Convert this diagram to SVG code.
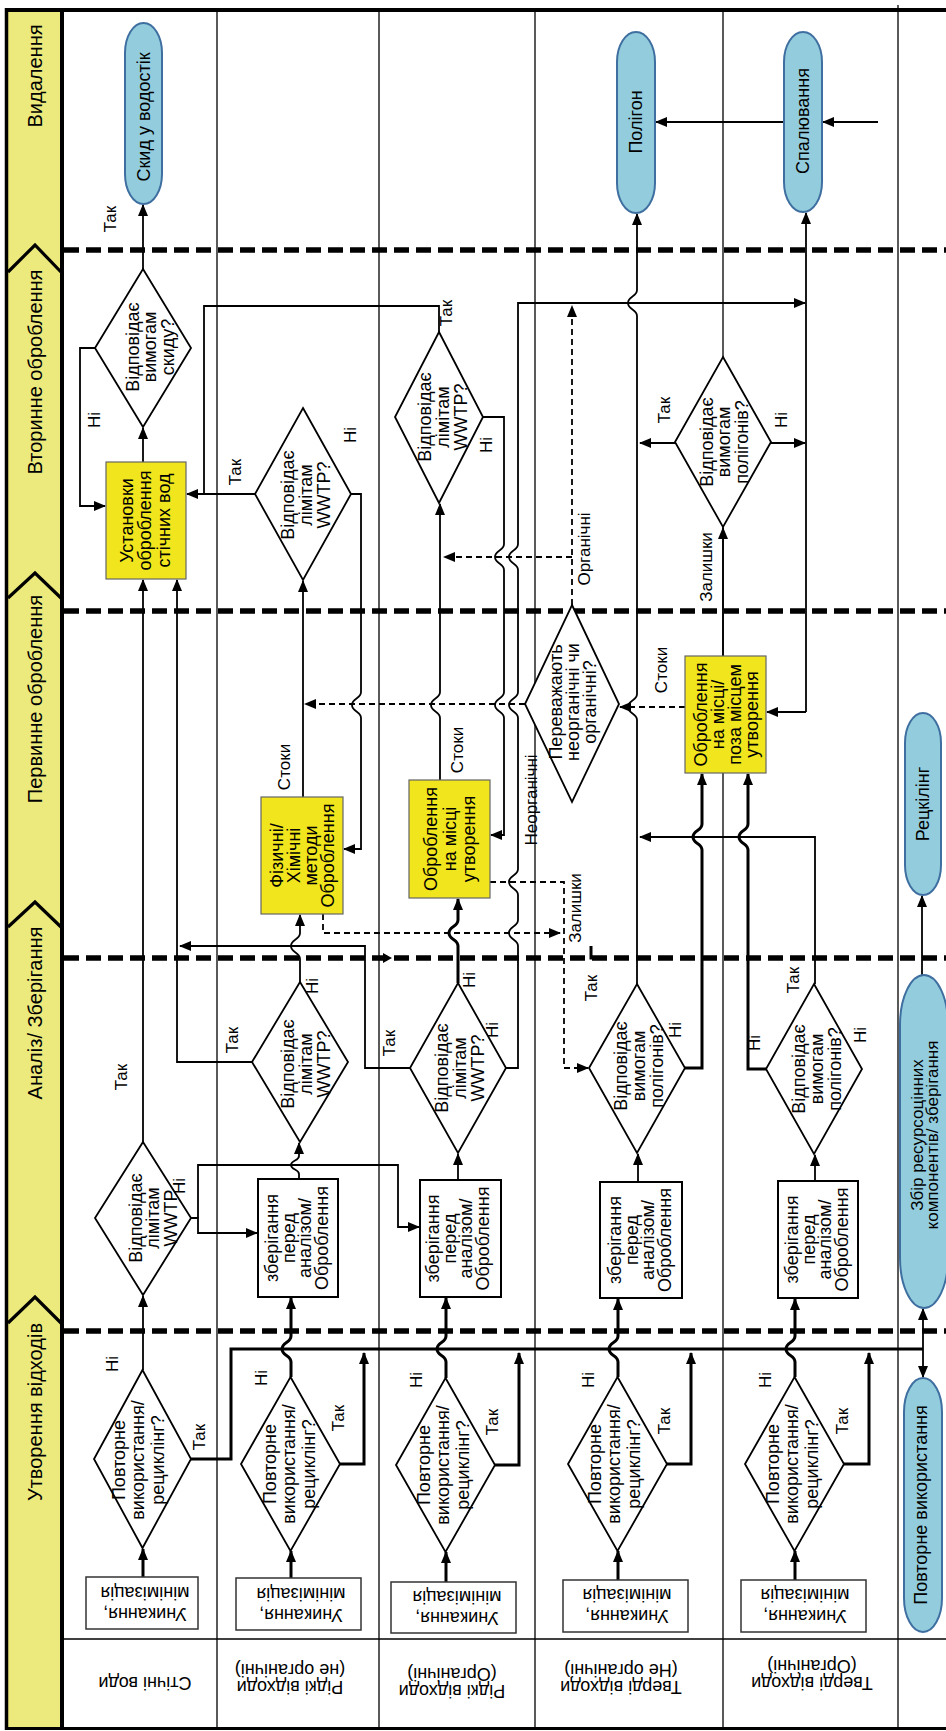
<svg xmlns="http://www.w3.org/2000/svg" width="946" height="1731" viewBox="0 0 946 1731">
<style>
text,tspan{font-family:"Liberation Sans",Arial,sans-serif;fill:#000;text-anchor:middle;dominant-baseline:central;font-size:17px}
.f18,.f18 tspan{font-size:18px}
.f19{font-size:20px}
.f16,.f16 tspan{font-size:17px}
.ln{fill:none;stroke:#000;stroke-width:1.8}
.tk{stroke-width:3}
.ds{stroke-dasharray:6 4}
.ph{fill:none;stroke:#000;stroke-width:5.5;stroke-dasharray:15 7}
.lane{stroke:#000;stroke-width:1.3}
.dia{fill:#fff;stroke:#000;stroke-width:1.8}
.box{fill:#fff;stroke:#000;stroke-width:2}
.ubox{fill:#fff;stroke:#333;stroke-width:1.5}
.ybox{fill:#F1E51D;stroke:#666;stroke-width:1.2}
.term{fill:#93CDDD;stroke:#3F6FA0;stroke-width:2}
.chev{fill:none;stroke:#000;stroke-width:3.2}
</style>
<defs>
<marker id="ah" viewBox="0 0 12 10" refX="11" refY="5" markerWidth="12" markerHeight="10" markerUnits="userSpaceOnUse" orient="auto"><path d="M0,0 L12,5 L0,10 z" fill="#000"/></marker>
</defs>
<rect x="0" y="0" width="946" height="1731" fill="#fff"/>

<g id="frame">
<rect x="8" y="12" width="53" height="1715" fill="#ECEA7C"/>
<line class="lane" x1="217" y1="12" x2="217" y2="1727"/>
<line class="lane" x1="379" y1="12" x2="379" y2="1727"/>
<line class="lane" x1="535" y1="12" x2="535" y2="1727"/>
<line class="lane" x1="723" y1="12" x2="723" y2="1727"/>
<line class="lane" x1="898" y1="5" x2="898" y2="1727"/>
<line x1="62" y1="1639" x2="946" y2="1639" stroke="#000" stroke-width="1.5"/>
<line x1="62" y1="10" x2="62" y2="1729" stroke="#000" stroke-width="4"/>
<line x1="5" y1="10" x2="946" y2="10" stroke="#000" stroke-width="4"/>
<line x1="6.5" y1="8" x2="6.5" y2="1730" stroke="#000" stroke-width="3.5"/>
<line x1="5" y1="1728.5" x2="946" y2="1728.5" stroke="#000" stroke-width="3"/>
<polyline class="chev" points="8,272 35,245 61,272"/>
<polyline class="chev" points="8,598 35,573 61,598"/>
<polyline class="chev" points="8,927 35,902 61,927"/>
<polyline class="chev" points="8,1323 35,1297 61,1323"/>
<line class="ph" x1="64" y1="250" x2="946" y2="250"/>
<line class="ph" x1="64" y1="611" x2="946" y2="611"/>
<line class="ph" x1="64" y1="958" x2="946" y2="958"/>
<line class="ph" x1="64" y1="1331" x2="946" y2="1331"/>
</g>

<g id="phases">
<text class="f19" transform="translate(35,76) rotate(-90)">Видалення</text>
<text class="f19" transform="translate(35,372) rotate(-90)">Вторинне оброблення</text>
<text class="f19" transform="translate(35,699) rotate(-90)">Первинне оброблення</text>
<text class="f19" transform="translate(35,1013) rotate(-90)">Аналіз/ Зберігання</text>
<text class="f19" transform="translate(35,1412) rotate(-90)">Утворення відходів</text>
</g>

<g id="rowlabels">
<text class="f18" transform="translate(145,1683) rotate(180)">Стічні води</text>
<text class="f18" transform="translate(290,1678.5) rotate(180)"><tspan x="0" y="-8.5">Рідкі відходи</tspan><tspan x="0" y="8.5">(не органічні)</tspan></text>
<text class="f18" transform="translate(452,1682) rotate(180)"><tspan x="0" y="-8.5">Рідкі відходи</tspan><tspan x="0" y="8.5">(Органічні)</tspan></text>
<text class="f18" transform="translate(621,1678.5) rotate(180)"><tspan x="0" y="-8.5">Тверді відходи</tspan><tspan x="0" y="8.5">(Не органічні)</tspan></text>
<text class="f18" transform="translate(812,1674) rotate(180)"><tspan x="0" y="-8.5">Тверді відходи</tspan><tspan x="0" y="8.5">(Органічні)</tspan></text>
</g>

<g id="connectors">
<path class="ln" d="M143,269 V205" marker-end="url(#ah)"/>
<path class="ln" d="M784,122 H656" marker-end="url(#ah)"/>
<path class="ln" d="M878,122 H823" marker-end="url(#ah)"/>
<path class="ln" d="M143,462 V428" marker-end="url(#ah)"/>
<path class="ln" d="M95,348 H80 V506 H105" marker-end="url(#ah)"/>
<path class="ln" d="M255,494 H187" marker-end="url(#ah)"/>
<path class="ln" d="M439,332 V306 H204 V494"/>
<path class="ln" d="M351,494 H361 V692 C361,699 352,698 352,705 C352,712 361,711 361,718 V849 H344" marker-end="url(#ah)"/>
<path class="ln" d="M483,417 H504 V544 C504,551 495,550 495,557 C495,564 504,563 504,570 V692 C504,699 495,698 495,705 C495,712 504,711 504,718 V835 H491" marker-end="url(#ah)"/>
<path class="ln" d="M506,1068 H518 V946 C518,939 509,940 509,933 C509,926 518,927 518,920 V895 C518,888 509,889 509,882 C509,875 518,876 518,869 V718 C518,711 509,712 509,705 C509,698 518,699 518,692 V570 C518,563 509,564 509,557 C509,550 518,551 518,544 V303 H805" marker-end="url(#ah)"/>
<path class="ln" d="M440,780 V718 C440,711 431,712 431,705 C431,698 440,699 440,692 V504" marker-end="url(#ah)"/>
<path class="ln" d="M303,797 V581" marker-end="url(#ah)"/>
<path class="ln" d="M723,656 V528" marker-end="url(#ah)"/>
<path class="ln" d="M675,443 H640" marker-end="url(#ah)"/>
<path class="ln" d="M771,443 H805" marker-end="url(#ah)"/>
<path class="ln" d="M806,712 V213" marker-end="url(#ah)"/>
<path class="ln" d="M806,712 H767" marker-end="url(#ah)"/>
<path class="ln" d="M637,984 V720 C637,713 628,714 628,707 C628,700 637,701 637,694 V316 C637,309 628,310 628,303 C628,296 637,297 637,290 V214" marker-end="url(#ah)"/>
<path class="ln ds" d="M572,605 V306" marker-end="url(#ah)"/>
<path class="ln ds" d="M572,557 H444" marker-end="url(#ah)"/>
<path class="ln ds" d="M525,704 H305" marker-end="url(#ah)"/>
<path class="ln ds" d="M685,707 H620" marker-end="url(#ah)"/>
<path class="ln ds" d="M323,914 V933 H560" marker-end="url(#ah)"/>
<path class="ln ds" d="M490,882 H564 V1068 H588" marker-end="url(#ah)"/>
<path class="ln" d="M300,982 V959 C300,952 291,953 291,946 C291,939 300,940 300,933 V915" marker-end="url(#ah)"/>
<path class="ln tk" d="M458,983 V946 C458,939 449,940 449,933 C449,926 458,927 458,920 V899" marker-end="url(#ah)"/>
<path class="ln" d="M410,1068 H365 V946 H180" marker-end="url(#ah)"/>
<path class="ln" d="M252,1062 H177 V580" marker-end="url(#ah)"/>
<path class="ln" d="M143,1142 V580" marker-end="url(#ah)"/>
<path class="ln" d="M191,1218 H198 V1233 H257" marker-end="url(#ah)"/>
<path class="ln" d="M198,1218 V1165 H398 V1227 H419" marker-end="url(#ah)"/>
<path class="ln" d="M299,1179 V1174 C299,1169 291,1170 291,1165 C291,1160 299,1161 299,1156 V1143" marker-end="url(#ah)"/>
<path class="ln" d="M458,1180 V1154" marker-end="url(#ah)"/>
<path class="ln" d="M638,1182 V1154" marker-end="url(#ah)"/>
<path class="ln" d="M815,1181 V1155" marker-end="url(#ah)"/>
<path class="ln tk" d="M685,1068 H702 V850 C702,843 693,844 693,837 C693,830 702,831 702,824 V774" marker-end="url(#ah)"/>
<path class="ln tk" d="M766,1069 H748 V850 C748,843 739,844 739,837 C739,830 748,831 748,824 V774" marker-end="url(#ah)"/>
<path class="ln" d="M815,984 V837 H640" marker-end="url(#ah)"/>
<path class="ln" d="M143,1370 V1296" marker-end="url(#ah)"/>
<path class="ln tk" d="M291,1377 V1362 C291,1355 282,1356 282,1349 C282,1342 291,1343 291,1336 V1298" marker-end="url(#ah)"/>
<path class="ln tk" d="M446,1378 V1362 C446,1355 437,1356 437,1349 C437,1342 446,1343 446,1336 V1298" marker-end="url(#ah)"/>
<path class="ln tk" d="M618,1377 V1362 C618,1355 609,1356 609,1349 C609,1342 618,1343 618,1336 V1299" marker-end="url(#ah)"/>
<path class="ln tk" d="M795,1377 V1362 C795,1355 786,1356 786,1349 C786,1342 795,1343 795,1336 V1299" marker-end="url(#ah)"/>
<path class="ln tk" d="M191,1459 H231 V1349 H923"/>
<path class="ln tk" d="M340,1464 H364 V1353" marker-end="url(#ah)"/>
<path class="ln tk" d="M495,1465 H519 V1353" marker-end="url(#ah)"/>
<path class="ln tk" d="M667,1464 H691 V1353" marker-end="url(#ah)"/>
<path class="ln tk" d="M844,1464 H869 V1353" marker-end="url(#ah)"/>
<path class="ln" d="M923,1349 V1309" marker-end="url(#ah)"/>
<path class="ln" d="M923,1349 V1377" marker-end="url(#ah)"/>
<path class="ln tk" d="M143,1577 V1549" marker-end="url(#ah)"/>
<path class="ln tk" d="M291,1578 V1551" marker-end="url(#ah)"/>
<path class="ln tk" d="M446,1582 V1552" marker-end="url(#ah)"/>
<path class="ln tk" d="M618,1580 V1551" marker-end="url(#ah)"/>
<path class="ln tk" d="M795,1580 V1551" marker-end="url(#ah)"/>
<path class="ln" d="M922,975 V896" marker-end="url(#ah)"/>
<path d="M383,953 L392,958 L383,963 z" fill="#000"/>
<path class="ln tk" d="M591,946 V958 H603"/>
</g>

<g id="labels">
<text transform="translate(110,219) rotate(-90)">Так</text>
<text transform="translate(94,420) rotate(-90)">Ні</text>
<text transform="translate(235,472) rotate(-90)">Так</text>
<text transform="translate(350,435) rotate(-90)">Ні</text>
<text transform="translate(446,313) rotate(-90)">Так</text>
<text transform="translate(486,445) rotate(-90)">Ні</text>
<text transform="translate(664,410) rotate(-90)">Так</text>
<text transform="translate(781,420) rotate(-90)">Ні</text>
<text transform="translate(706,567) rotate(-90)">Залишки</text>
<text transform="translate(584,549) rotate(-90)">Органічні</text>
<text transform="translate(284,767) rotate(-90)">Стоки</text>
<text transform="translate(457,750) rotate(-90)">Стоки</text>
<text transform="translate(661,670) rotate(-90)">Стоки</text>
<text transform="translate(531,800) rotate(-90)">Неорганічні</text>
<text transform="translate(575,908) rotate(-90)">Залишки</text>
<text transform="translate(121,1077) rotate(-90)">Так</text>
<text transform="translate(179,1186) rotate(-90)">Ні</text>
<text transform="translate(232,1040) rotate(-90)">Так</text>
<text transform="translate(312,986) rotate(-90)">Ні</text>
<text transform="translate(389,1043) rotate(-90)">Так</text>
<text transform="translate(469,980) rotate(-90)">Ні</text>
<text transform="translate(492,1030) rotate(-90)">Ні</text>
<text transform="translate(591,988) rotate(-90)">Так</text>
<text transform="translate(675,1030) rotate(-90)">Ні</text>
<text transform="translate(754,1043) rotate(-90)">Ні</text>
<text transform="translate(793,980) rotate(-90)">Так</text>
<text transform="translate(860,1035) rotate(-90)">Ні</text>
<text transform="translate(112,1364) rotate(-90)">Ні</text>
<text transform="translate(199,1437) rotate(-90)">Так</text>
<text transform="translate(261,1378) rotate(-90)">Ні</text>
<text transform="translate(338,1418) rotate(-90)">Так</text>
<text transform="translate(416,1380) rotate(-90)">Ні</text>
<text transform="translate(492,1422) rotate(-90)">Так</text>
<text transform="translate(588,1380) rotate(-90)">Ні</text>
<text transform="translate(664,1421) rotate(-90)">Так</text>
<text transform="translate(765,1380) rotate(-90)">Ні</text>
<text transform="translate(842,1421) rotate(-90)">Так</text>
</g>

<g id="n-skyd"><rect class="term" x="125" y="23" width="37" height="181" rx="18.5" ry="30"/><text class="f18" transform="translate(143.5,117) rotate(-90)">Скид у водостік</text></g>
<g id="n-poligon"><rect class="term" x="617" y="32" width="38" height="181" rx="19" ry="30"/><text class="f18" transform="translate(636,122) rotate(-90)">Полігон</text></g>
<g id="n-spal"><rect class="term" x="784" y="32" width="38" height="180" rx="19" ry="30"/><text class="f18" transform="translate(803,121) rotate(-90)">Спалювання</text></g>
<g id="n-recycling"><rect class="term" x="905" y="713" width="36" height="182" rx="18" ry="30"/><text class="f18" transform="translate(923,804) rotate(-90)">Рецкілінг</text></g>
<g id="n-zbir"><rect class="term" x="900" y="975" width="48" height="333" rx="24" ry="50"/><text class="f16" transform="translate(924,1135) rotate(-90)"><tspan x="0" y="-7.5">Збір ресурсоцінних</tspan><tspan x="0" y="7.5">компонентів/ зберігання</tspan></text></g>
<g id="n-reuse"><rect class="term" x="904" y="1378" width="38" height="254" rx="19" ry="34"/><text class="f18" transform="translate(921,1505) rotate(-90)">Повторне використання</text></g>

<g id="n-ustanovky"><rect class="ybox" x="106" y="462" width="80" height="117"/><text class="f18" transform="translate(145,520.5) rotate(-90)"><tspan x="0" y="-18.5">Установки</tspan><tspan x="0" y="0">оброблення</tspan><tspan x="0" y="18.5">стічних вод</tspan></text></g>
<g id="n-fizychni"><rect class="ybox" x="261" y="797" width="82" height="117"/><text class="f18" transform="translate(302,855.5) rotate(-90)"><tspan x="0" y="-25.5">Фізичні/</tspan><tspan x="0" y="-8.5">Хімічні</tspan><tspan x="0" y="8.5">методи</tspan><tspan x="0" y="25.5">Оброблення</tspan></text></g>
<g id="n-obr-misce"><rect class="ybox" x="409" y="780" width="81" height="118"/><text class="f18" transform="translate(450,839) rotate(-90)"><tspan x="0" y="-19">Оброблення</tspan><tspan x="0" y="0">на місці</tspan><tspan x="0" y="19">утворення</tspan></text></g>
<g id="n-obr-poza"><rect class="ybox" x="685" y="656" width="81" height="117"/><text class="f18" transform="translate(726,714.5) rotate(-90)"><tspan x="0" y="-25.5">Оброблення</tspan><tspan x="0" y="-8.5">на місці/</tspan><tspan x="0" y="8.5">поза місцем</tspan><tspan x="0" y="25.5">утворення</tspan></text></g>

<g id="n-d-skydu"><polygon class="dia" points="143,269 191,348 143,427 95,348"/><text class="f18" transform="translate(150,347) rotate(-90)"><tspan x="0" y="-17.5">Відповідає</tspan><tspan x="0" y="0">вимогам</tspan><tspan x="0" y="17.5">скиду?</tspan></text></g>
<g id="n-d-l2sec"><polygon class="dia" points="303,408 351,494 303,580 255,494"/><text class="f18" transform="translate(306,495) rotate(-90)"><tspan x="0" y="-18">Відповідає</tspan><tspan x="0" y="0">лімітам</tspan><tspan x="0" y="18">WWTP?</tspan></text></g>
<g id="n-d-l3sec"><polygon class="dia" points="439,332 483,417 439,503 395,417"/><text class="f18" transform="translate(443,417) rotate(-90)"><tspan x="0" y="-18">Відповідає</tspan><tspan x="0" y="0">лімітам</tspan><tspan x="0" y="18">WWTP?</tspan></text></g>
<g id="n-d-l5sec"><polygon class="dia" points="723,357 771,442 723,527 675,442"/><text class="f18" transform="translate(724,442) rotate(-90)"><tspan x="0" y="-17.5">Відповідає</tspan><tspan x="0" y="0">вимогам</tspan><tspan x="0" y="17.5">полігонів?</tspan></text></g>
<g id="n-d-perev"><polygon class="dia" points="572,605 619,704 572,802 525,704"/><text class="f18" transform="translate(573,702) rotate(-90)"><tspan x="0" y="-17">Переважають</tspan><tspan x="0" y="0">неорганічні чи</tspan><tspan x="0" y="17">органічні?</tspan></text></g>
<g id="n-d-l1an"><polygon class="dia" points="143,1142 191,1218 143,1295 95,1218"/><text class="f18" transform="translate(153,1218) rotate(-90)"><tspan x="0" y="-17.5">Відповідає</tspan><tspan x="0" y="0">лімітам</tspan><tspan x="0" y="17.5">WWTP</tspan></text></g>
<g id="n-d-l2an"><polygon class="dia" points="300,982 348,1062 300,1142 252,1062"/><text class="f18" transform="translate(306,1064) rotate(-90)"><tspan x="0" y="-18">Відповідає</tspan><tspan x="0" y="0">лімітам</tspan><tspan x="0" y="18">WWTP?</tspan></text></g>
<g id="n-d-l3an"><polygon class="dia" points="458,983 506,1068 458,1153 410,1068"/><text class="f18" transform="translate(460,1068) rotate(-90)"><tspan x="0" y="-18">Відповідає</tspan><tspan x="0" y="0">лімітам</tspan><tspan x="0" y="18">WWTP?</tspan></text></g>
<g id="n-d-l4an"><polygon class="dia" points="637,984 685,1068 637,1153 589,1068"/><text class="f18" transform="translate(639,1066) rotate(-90)"><tspan x="0" y="-18">Відповідає</tspan><tspan x="0" y="0">вимогам</tspan><tspan x="0" y="18">полігонів?</tspan></text></g>
<g id="n-d-l5an"><polygon class="dia" points="814,984 862,1069 814,1154 766,1069"/><text class="f18" transform="translate(817,1069) rotate(-90)"><tspan x="0" y="-18">Відповідає</tspan><tspan x="0" y="0">вимогам</tspan><tspan x="0" y="18">полігонів?</tspan></text></g>

<g id="n-store2"><rect class="box" x="258" y="1179" width="80" height="118"/><text class="f18" transform="translate(297,1238) rotate(-90)"><tspan x="0" y="-24.75">зберігання</tspan><tspan x="0" y="-8.25">перед</tspan><tspan x="0" y="8.25">аналізом/</tspan><tspan x="0" y="24.75">Оброблення</tspan></text></g>
<g id="n-store3"><rect class="box" x="420" y="1180" width="81" height="117"/><text class="f18" transform="translate(458,1238.5) rotate(-90)"><tspan x="0" y="-24.75">зберігання</tspan><tspan x="0" y="-8.25">перед</tspan><tspan x="0" y="8.25">аналізом/</tspan><tspan x="0" y="24.75">Оброблення</tspan></text></g>
<g id="n-store4"><rect class="box" x="600" y="1182" width="82" height="116"/><text class="f18" transform="translate(640,1240) rotate(-90)"><tspan x="0" y="-24.75">зберігання</tspan><tspan x="0" y="-8.25">перед</tspan><tspan x="0" y="8.25">аналізом/</tspan><tspan x="0" y="24.75">Оброблення</tspan></text></g>
<g id="n-store5"><rect class="box" x="778" y="1181" width="80" height="117"/><text class="f18" transform="translate(817,1239.5) rotate(-90)"><tspan x="0" y="-24.75">зберігання</tspan><tspan x="0" y="-8.25">перед</tspan><tspan x="0" y="8.25">аналізом/</tspan><tspan x="0" y="24.75">Оброблення</tspan></text></g>

<g id="n-d-r1"><polygon class="dia" points="142.5,1370 191,1459 142.5,1548 94,1459"/><text class="f18" transform="translate(138,1460) rotate(-90)"><tspan x="0" y="-19.5">Повторне</tspan><tspan x="0" y="0">використання/</tspan><tspan x="0" y="19.5">рециклінг?</tspan></text></g>
<g id="n-d-r2"><polygon class="dia" points="290.5,1377 340,1464 290.5,1551 241,1464"/><text class="f18" transform="translate(289,1464) rotate(-90)"><tspan x="0" y="-19.5">Повторне</tspan><tspan x="0" y="0">використання/</tspan><tspan x="0" y="19.5">рециклінг?</tspan></text></g>
<g id="n-d-r3"><polygon class="dia" points="445.5,1378 495,1465 445.5,1552 396,1465"/><text class="f18" transform="translate(443,1465) rotate(-90)"><tspan x="0" y="-19.5">Повторне</tspan><tspan x="0" y="0">використання/</tspan><tspan x="0" y="19.5">рециклінг?</tspan></text></g>
<g id="n-d-r4"><polygon class="dia" points="617.5,1377 667,1464 617.5,1551 568,1464"/><text class="f18" transform="translate(614,1464) rotate(-90)"><tspan x="0" y="-19.5">Повторне</tspan><tspan x="0" y="0">використання/</tspan><tspan x="0" y="19.5">рециклінг?</tspan></text></g>
<g id="n-d-r5"><polygon class="dia" points="794.5,1377 844,1464 794.5,1551 745,1464"/><text class="f18" transform="translate(792,1464) rotate(-90)"><tspan x="0" y="-19.5">Повторне</tspan><tspan x="0" y="0">використання/</tspan><tspan x="0" y="19.5">рециклінг?</tspan></text></g>

<g id="n-av1"><rect class="ubox" x="86" y="1577" width="112" height="52"/><text class="f18" transform="translate(145,1603.5) rotate(180)"><tspan x="0" y="-10.5">Уникання,</tspan><tspan x="0" y="10.5">мінімізація</tspan></text></g>
<g id="n-av2"><rect class="ubox" x="236" y="1578" width="125" height="52"/><text class="f18" transform="translate(301,1604) rotate(180)"><tspan x="0" y="-10.5">Уникання,</tspan><tspan x="0" y="10.5">мінімізація</tspan></text></g>
<g id="n-av3"><rect class="ubox" x="391" y="1582" width="125" height="51"/><text class="f18" transform="translate(457,1607) rotate(180)"><tspan x="0" y="-10.5">Уникання,</tspan><tspan x="0" y="10.5">мінімізація</tspan></text></g>
<g id="n-av4"><rect class="ubox" x="563" y="1580" width="125" height="52"/><text class="f18" transform="translate(627,1605) rotate(180)"><tspan x="0" y="-10.5">Уникання,</tspan><tspan x="0" y="10.5">мінімізація</tspan></text></g>
<g id="n-av5"><rect class="ubox" x="741" y="1580" width="125" height="52"/><text class="f18" transform="translate(805,1605) rotate(180)"><tspan x="0" y="-10.5">Уникання,</tspan><tspan x="0" y="10.5">мінімізація</tspan></text></g>
</svg>
